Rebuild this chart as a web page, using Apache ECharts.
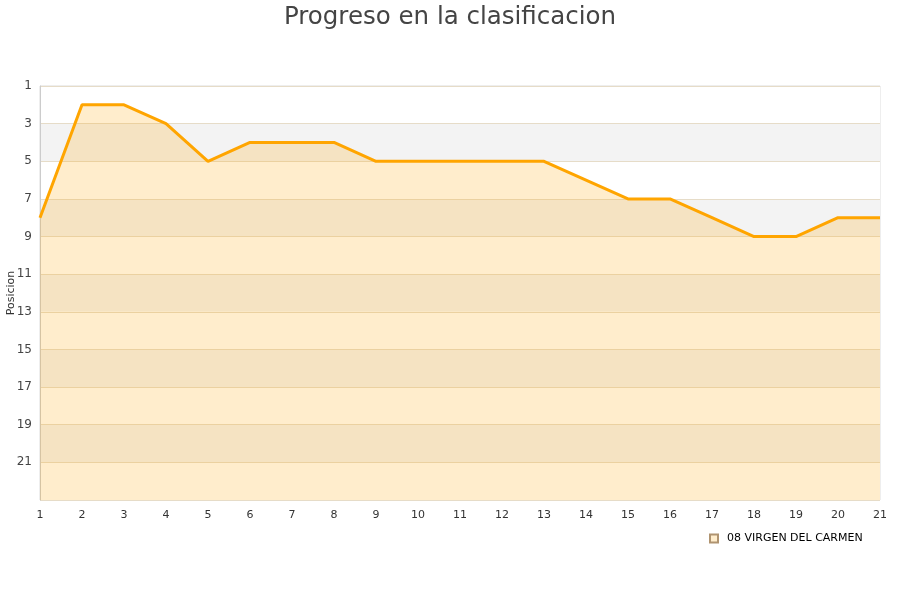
<!DOCTYPE html>
<html><head><meta charset="utf-8">
<script src="https://cdn.jsdelivr.net/npm/echarts@6/dist/echarts.min.js"></script>
<style>html,body{margin:0;padding:0;background:#fff}#c{width:900px;height:600px}</style>
</head><body><div id="c"></div>
<script>
var jornadas = ['1','2','3','4','5','6','7','8','9','10','11','12','13','14','15','16','17','18','19','20','21'];
var posiciones = [8,2,2,3,5,4,4,4,5,5,5,5,5,6,7,7,8,9,9,8,8];
var equipo = '08 VIRGEN DEL CARMEN';
var chart = echarts.init(document.getElementById('c'));
chart.setOption({
  animation: false,
  title: {text: 'Progreso en la clasificacion', left: 'center', top: 0,
    textStyle: {fontFamily: 'DejaVu Sans', fontSize: 24.5, fontWeight: 'normal', color: '#444'}},
  grid: {left: 40, right: 20, top: 86, bottom: 100, show: true, borderColor: '#ddd', borderWidth: 1,
    containLabel: false, outerBoundsMode: 'none'},
  legend: {data: [{name: equipo, icon: 'rect'}], left: 704, top: 528, itemWidth: 8, itemHeight: 8,
    textStyle: {fontFamily: 'DejaVu Sans', fontSize: 11, color: '#000', padding: [0, 0, 0, 4]}},
  xAxis: {type: 'category', data: jornadas, boundaryGap: false,
    axisLine: {show: false}, axisTick: {show: false},
    axisLabel: {fontFamily: 'DejaVu Sans', fontSize: 11, color: '#333', margin: 10},
    splitLine: {show: false}},
  yAxis: {type: 'value', inverse: true, min: 1, max: 23, interval: 2,
    name: 'Posicion', nameLocation: 'middle', nameGap: 23, nameMoveOverlap: false,
    nameTextStyle: {fontFamily: 'DejaVu Sans', fontSize: 11, color: '#333'},
    axisLine: {show: true, lineStyle: {color: '#ccc'}}, axisTick: {show: false},
    axisLabel: {fontFamily: 'DejaVu Sans', fontSize: 12, color: '#444', margin: 8,
      formatter: function(v){ return v === 23 ? '' : v; }},
    splitLine: {show: true, lineStyle: {color: '#e6dcc8'}},
    splitArea: {show: true, areaStyle: {color: ['#ffffff', '#f3f3f3']}}},
  series: [{name: equipo, type: 'line', data: posiciones, symbol: 'none',
    lineStyle: {color: '#ffa500', width: 3},
    itemStyle: {color: '#ffedcc', borderColor: '#b09470', borderWidth: 1},
    areaStyle: {color: '#ffa500', opacity: 0.2, origin: 'end'}}]
});
</script></body></html>
